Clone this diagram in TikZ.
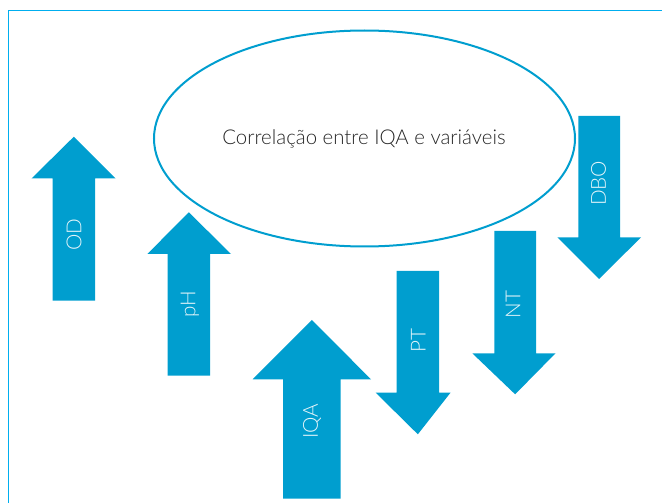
\documentclass[tikz,border=0pt]{standalone}
\usepackage{fontspec}
\usetikzlibrary{shapes.geometric}
\setmainfont{Lato}[UprightFont={* Light}]
\definecolor{arrowblue}{RGB}{0,158,207}
\definecolor{frameblue}{RGB}{0,174,239}
\tikzset{
  arrowfill/.style={fill=arrowblue, draw=none},
  arrowlabel/.style={text=white!90!arrowblue, font=\fontsize{15.5}{18}\selectfont, inner sep=0pt, rotate=90, anchor=center},
  titlelabel/.style={text=black!85, font=\fontsize{15.3}{18}\selectfont, inner sep=0pt, anchor=base},
  framebox/.style={draw=frameblue, line width=1.2pt},
  bigellipse/.style={draw=arrowblue, line width=1.5pt, ellipse, minimum width=315.75pt, minimum height=162pt, inner sep=0pt},
}
\begin{document}
\begin{tikzpicture}[x=0.75pt,y=-0.75pt]
\useasboundingbox (0,0) rectangle (662,503);
% frame
\draw[framebox] (8.5,503) coordinate (fbl) -- (8.5,10.5) coordinate (ftl) -- (662,10.5) coordinate (ftr);
% ellipse
\node[bigellipse] (ell) at (364.5,138.5) {};
\node[titlelabel] (title) at (364,145) {Correlação entre IQA e variáveis};
% up arrows
\newcommand{\uparr}[7]{% x1 x2 hx1 hx2 tipy basey bottomy
  \fill[arrowfill] (#1,#7) -- (#1,#6) -- (#3,#6) -- ({(#1+#2)/2},#5) -- (#4,#6) -- (#2,#6) -- (#2,#7) -- cycle;}
\newcommand{\downarr}[7]{% x1 x2 hx1 hx2 topy basey tipy
  \fill[arrowfill] (#1,#5) -- (#1,#6) -- (#3,#6) -- ({(#1+#2)/2},#7) -- (#4,#6) -- (#2,#6) -- (#2,#5) -- cycle;}
\uparr{52.7}{95}{31.7}{115.5}{136.7}{178.3}{300.7}
\uparr{167.7}{210}{147.3}{231}{212.3}{254}{375.7}
\uparr{283}{340.7}{252.7}{371}{320}{379.3}{498.7}
\downarr{396.7}{439}{375.7}{450.5}{271}{392.7}{434.3}
\downarr{494.3}{536}{472.3}{555.5}{231}{353.3}{394.3}
\downarr{578.3}{620}{557.3}{641}{116}{237.3}{279}
\node[arrowlabel] (od) at (74,234.5) {OD};
\node[arrowlabel] (ph) at (190,303.8) {pH};
\node[arrowlabel] (iqa) at (312,421.5) {IQA};
\node[arrowlabel] (pt) at (418.3,340.5) {PT};
\node[arrowlabel] (nt) at (513,304.5) {NT};
\node[arrowlabel] (dbo) at (598.5,183.3) {DBO};
\end{tikzpicture}
\end{document}
